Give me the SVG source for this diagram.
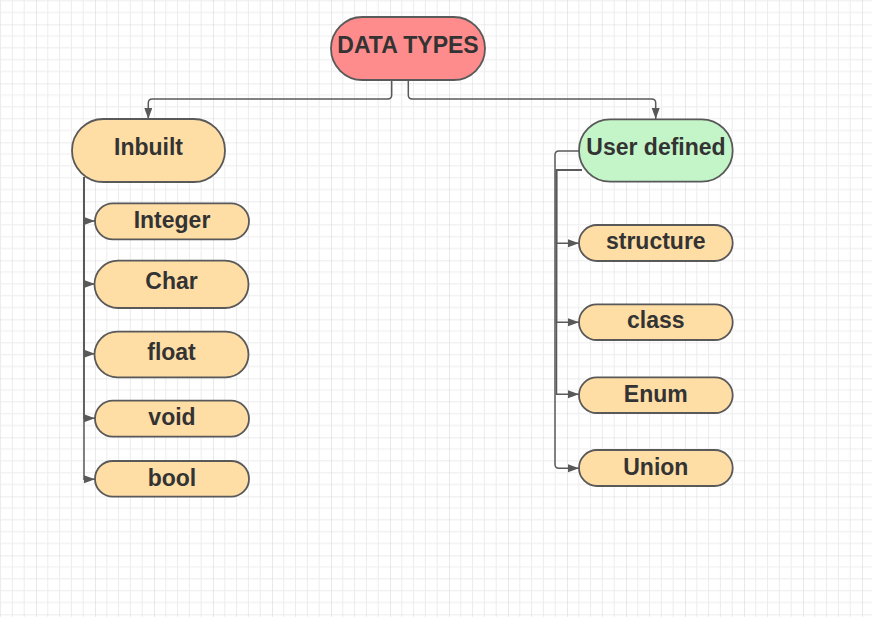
<svg xmlns="http://www.w3.org/2000/svg" width="872" height="617" viewBox="0 0 872 617">
  <defs>
    <pattern id="grid" x="36" y="24.3" width="59" height="59" patternUnits="userSpaceOnUse">
      <path d="M11.8,0V59M23.6,0V59M35.4,0V59M47.2,0V59M0,11.8H59M0,23.6H59M0,35.4H59M0,47.2H59" stroke="#ececec" stroke-width="1" fill="none"/>
      <path d="M0,0V59M0,0H59" stroke="#dadada" stroke-width="1.2" fill="none"/>
    </pattern>
    <marker id="arr" markerUnits="userSpaceOnUse" markerWidth="12" markerHeight="10" refX="11" refY="4" orient="auto">
      <path d="M0,0 L11,4 L0,8 Z" fill="#595959"/>
    </marker>
    <style>
      .node rect { stroke: #595959; stroke-width: 1.8; }
      .orange { fill: #ffdea6; }
      .red { fill: #ff8c8c; }
      .green { fill: #c4f5c8; }
      .node text { font-family: "Liberation Sans", Arial, sans-serif; font-weight: bold; font-size: 23px; fill: #333333; text-anchor: middle; }
      .conn path { stroke: #595959; stroke-width: 1.5; fill: none; }
    </style>
  </defs>
  <rect width="872" height="617" fill="#ffffff"/>
  <rect width="872" height="617" fill="url(#grid)"/>

  <g id="connectors" class="conn">
    <path d="M391.7,80 V95 Q391.7,99 387.7,99 H152.3 Q148.3,99 148.3,103 V119" marker-end="url(#arr)"/>
    <path d="M408.3,80 V95 Q408.3,99 412.3,99 H651.7 Q655.7,99 655.7,103 V119" marker-end="url(#arr)"/>
    <path d="M84,177 V221 H95" marker-end="url(#arr)"/>
    <path d="M84,177 V284 H95" marker-end="url(#arr)"/>
    <path d="M84,177 V353.7 H95" marker-end="url(#arr)"/>
    <path d="M84,177 V418.3 H95" marker-end="url(#arr)"/>
    <path d="M84,177 V479.3 H95" marker-end="url(#arr)"/>
    <path d="M582,170 H556.5 V243.3 H579" marker-end="url(#arr)"/>
    <path d="M582,170 H556.5 V322.3 H579" marker-end="url(#arr)"/>
    <path d="M582,170 H556.5 V394.3 H579" marker-end="url(#arr)"/>
    <path d="M579,151 H559 Q555,151 555,155 V464.3 Q555,468.3 559,468.3 H579" marker-end="url(#arr)"/>
  </g>

  <g id="node-datatypes" class="node">
    <rect class="red" x="331" y="17" width="154" height="63" rx="31.5"/>
    <text x="408" y="53.3">DATA TYPES</text>
  </g>
  <g id="node-inbuilt" class="node">
    <rect class="orange" x="72" y="119" width="153" height="63" rx="31.5"/>
    <text x="148.5" y="155">Inbuilt</text>
  </g>
  <g id="node-userdefined" class="node">
    <rect class="green" x="579" y="119.3" width="153.7" height="62.4" rx="31.2"/>
    <text x="656" y="155">User defined</text>
  </g>
  <g id="node-integer" class="node">
    <rect class="orange" x="95" y="203.3" width="154" height="36" rx="18"/>
    <text x="172" y="228.3">Integer</text>
  </g>
  <g id="node-char" class="node">
    <rect class="orange" x="94.5" y="260.7" width="154" height="47.3" rx="23.6"/>
    <text x="171.5" y="289">Char</text>
  </g>
  <g id="node-float" class="node">
    <rect class="orange" x="94.5" y="331.7" width="154" height="45.6" rx="22.8"/>
    <text x="171.5" y="360">float</text>
  </g>
  <g id="node-void" class="node">
    <rect class="orange" x="95" y="400.7" width="154" height="36" rx="18"/>
    <text x="172" y="425">void</text>
  </g>
  <g id="node-bool" class="node">
    <rect class="orange" x="95" y="461" width="154" height="35.7" rx="17.8"/>
    <text x="172" y="486">bool</text>
  </g>
  <g id="node-structure" class="node">
    <rect class="orange" x="579" y="225" width="153.7" height="36" rx="18"/>
    <text x="655.8" y="249.3">structure</text>
  </g>
  <g id="node-class" class="node">
    <rect class="orange" x="579" y="304.3" width="153.7" height="35.7" rx="17.8"/>
    <text x="655.8" y="328.3">class</text>
  </g>
  <g id="node-enum" class="node">
    <rect class="orange" x="579" y="377.3" width="153.7" height="35.7" rx="17.8"/>
    <text x="655.8" y="401.7">Enum</text>
  </g>
  <g id="node-union" class="node">
    <rect class="orange" x="579" y="450" width="153.7" height="36" rx="18"/>
    <text x="655.8" y="475">Union</text>
  </g>
</svg>
